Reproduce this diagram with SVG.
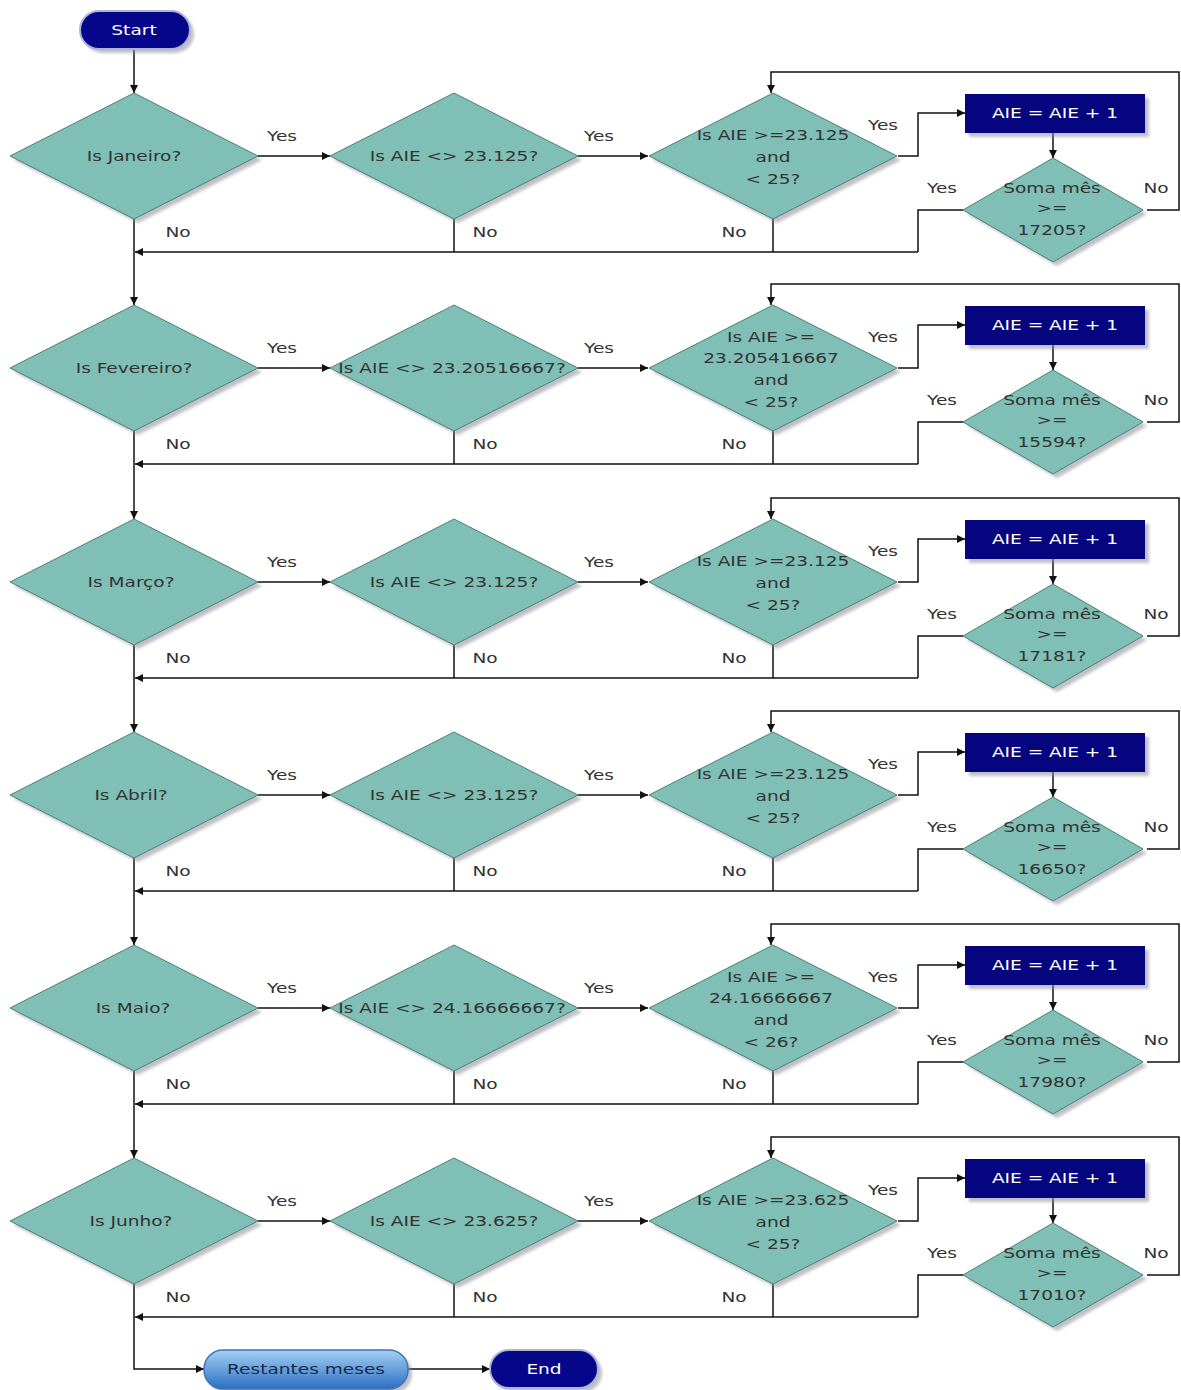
<svg xmlns="http://www.w3.org/2000/svg" width="1181" height="1390" viewBox="0 0 1181 1390">
<style>
.dia{fill:#7fbfb6;stroke:#4d7f7a;stroke-width:1}
.sh{fill:#8c8c9c;opacity:.55;filter:url(#blur)}
.box{fill:#05057f}
.term{fill:#06068a;stroke:#a9b6d6;stroke-width:2}
.t{font-family:"DejaVu Sans",Verdana,sans-serif;font-size:14.5px;fill:#333;text-anchor:middle}
.w{fill:#fff}
.c{fill:none;stroke:#111;stroke-width:1.5}
.ar{marker-end:url(#a)}
</style>
<defs>
<filter id="blur" x="-10%" y="-10%" width="120%" height="120%"><feGaussianBlur stdDeviation="1.5"/></filter>
<polygon id="dB" points="-124,0 0,-63 124,0 0,63"/>
<polygon id="dS" points="-90,0 0,-52 90,0 0,52"/>
<marker id="a" viewBox="0 0 10 10" refX="10" refY="5" markerWidth="9" markerHeight="8" markerUnits="userSpaceOnUse" orient="auto"><path d="M0,0L10,5L0,10z" fill="#111"/></marker>
<linearGradient id="g" x1="0" y1="0" x2="0" y2="1"><stop offset="0" stop-color="#a3d0f3"/><stop offset="1" stop-color="#2b6fc4"/></linearGradient>
</defs>
<rect width="1181" height="1390" fill="#fff"/>

<g id="connectors">
<path class="c ar" d="M134,50V93"/>
<g id="conn-row1">
<path class="c ar" d="M258,156H330"/><path class="c ar" d="M578,156H648"/>
<path class="c ar" d="M898,156H918V113H965"/><path class="c ar" d="M1053,133V158"/>
<path class="c" d="M963,210H918V252"/><path class="c ar" d="M918,252H135"/>
<path class="c" d="M454,219V252"/><path class="c" d="M773,219V252"/>
<path class="c ar" d="M1147,210H1179V72H771V93"/>
<path class="c ar" d="M134,219V305"/>
<text class="t" transform="matrix(1.28 0 0 1 282 141)">Yes</text><text class="t" transform="matrix(1.28 0 0 1 599 141)">Yes</text>
<text class="t" transform="matrix(1.28 0 0 1 883 130)">Yes</text><text class="t" transform="matrix(1.28 0 0 1 942 193)">Yes</text>
<text class="t" transform="matrix(1.28 0 0 1 1156 193)">No</text>
<text class="t" transform="matrix(1.28 0 0 1 178 237)">No</text><text class="t" transform="matrix(1.28 0 0 1 485 237)">No</text><text class="t" transform="matrix(1.28 0 0 1 734 237)">No</text>
</g>
<g id="conn-row2" transform="translate(0,212)">
<path class="c ar" d="M258,156H330"/><path class="c ar" d="M578,156H648"/>
<path class="c ar" d="M898,156H918V113H965"/><path class="c ar" d="M1053,133V158"/>
<path class="c" d="M963,210H918V252"/><path class="c ar" d="M918,252H135"/>
<path class="c" d="M454,219V252"/><path class="c" d="M773,219V252"/>
<path class="c ar" d="M1147,210H1179V72H771V93"/>
<path class="c ar" d="M134,219V307"/>
<text class="t" transform="matrix(1.28 0 0 1 282 141)">Yes</text><text class="t" transform="matrix(1.28 0 0 1 599 141)">Yes</text>
<text class="t" transform="matrix(1.28 0 0 1 883 130)">Yes</text><text class="t" transform="matrix(1.28 0 0 1 942 193)">Yes</text>
<text class="t" transform="matrix(1.28 0 0 1 1156 193)">No</text>
<text class="t" transform="matrix(1.28 0 0 1 178 237)">No</text><text class="t" transform="matrix(1.28 0 0 1 485 237)">No</text><text class="t" transform="matrix(1.28 0 0 1 734 237)">No</text>
</g>
<g id="conn-row3" transform="translate(0,426)">
<path class="c ar" d="M258,156H330"/><path class="c ar" d="M578,156H648"/>
<path class="c ar" d="M898,156H918V113H965"/><path class="c ar" d="M1053,133V158"/>
<path class="c" d="M963,210H918V252"/><path class="c ar" d="M918,252H135"/>
<path class="c" d="M454,219V252"/><path class="c" d="M773,219V252"/>
<path class="c ar" d="M1147,210H1179V72H771V93"/>
<path class="c ar" d="M134,219V306"/>
<text class="t" transform="matrix(1.28 0 0 1 282 141)">Yes</text><text class="t" transform="matrix(1.28 0 0 1 599 141)">Yes</text>
<text class="t" transform="matrix(1.28 0 0 1 883 130)">Yes</text><text class="t" transform="matrix(1.28 0 0 1 942 193)">Yes</text>
<text class="t" transform="matrix(1.28 0 0 1 1156 193)">No</text>
<text class="t" transform="matrix(1.28 0 0 1 178 237)">No</text><text class="t" transform="matrix(1.28 0 0 1 485 237)">No</text><text class="t" transform="matrix(1.28 0 0 1 734 237)">No</text>
</g>
<g id="conn-row4" transform="translate(0,639)">
<path class="c ar" d="M258,156H330"/><path class="c ar" d="M578,156H648"/>
<path class="c ar" d="M898,156H918V113H965"/><path class="c ar" d="M1053,133V158"/>
<path class="c" d="M963,210H918V252"/><path class="c ar" d="M918,252H135"/>
<path class="c" d="M454,219V252"/><path class="c" d="M773,219V252"/>
<path class="c ar" d="M1147,210H1179V72H771V93"/>
<path class="c ar" d="M134,219V306"/>
<text class="t" transform="matrix(1.28 0 0 1 282 141)">Yes</text><text class="t" transform="matrix(1.28 0 0 1 599 141)">Yes</text>
<text class="t" transform="matrix(1.28 0 0 1 883 130)">Yes</text><text class="t" transform="matrix(1.28 0 0 1 942 193)">Yes</text>
<text class="t" transform="matrix(1.28 0 0 1 1156 193)">No</text>
<text class="t" transform="matrix(1.28 0 0 1 178 237)">No</text><text class="t" transform="matrix(1.28 0 0 1 485 237)">No</text><text class="t" transform="matrix(1.28 0 0 1 734 237)">No</text>
</g>
<g id="conn-row5" transform="translate(0,852)">
<path class="c ar" d="M258,156H330"/><path class="c ar" d="M578,156H648"/>
<path class="c ar" d="M898,156H918V113H965"/><path class="c ar" d="M1053,133V158"/>
<path class="c" d="M963,210H918V252"/><path class="c ar" d="M918,252H135"/>
<path class="c" d="M454,219V252"/><path class="c" d="M773,219V252"/>
<path class="c ar" d="M1147,210H1179V72H771V93"/>
<path class="c ar" d="M134,219V306"/>
<text class="t" transform="matrix(1.28 0 0 1 282 141)">Yes</text><text class="t" transform="matrix(1.28 0 0 1 599 141)">Yes</text>
<text class="t" transform="matrix(1.28 0 0 1 883 130)">Yes</text><text class="t" transform="matrix(1.28 0 0 1 942 193)">Yes</text>
<text class="t" transform="matrix(1.28 0 0 1 1156 193)">No</text>
<text class="t" transform="matrix(1.28 0 0 1 178 237)">No</text><text class="t" transform="matrix(1.28 0 0 1 485 237)">No</text><text class="t" transform="matrix(1.28 0 0 1 734 237)">No</text>
</g>
<g id="conn-row6" transform="translate(0,1065)">
<path class="c ar" d="M258,156H330"/><path class="c ar" d="M578,156H648"/>
<path class="c ar" d="M898,156H918V113H965"/><path class="c ar" d="M1053,133V158"/>
<path class="c" d="M963,210H918V252"/><path class="c ar" d="M918,252H135"/>
<path class="c" d="M454,219V252"/><path class="c" d="M773,219V252"/>
<path class="c ar" d="M1147,210H1179V72H771V93"/>
<path class="c ar" d="M134,219V304H204"/>
<text class="t" transform="matrix(1.28 0 0 1 282 141)">Yes</text><text class="t" transform="matrix(1.28 0 0 1 599 141)">Yes</text>
<text class="t" transform="matrix(1.28 0 0 1 883 130)">Yes</text><text class="t" transform="matrix(1.28 0 0 1 942 193)">Yes</text>
<text class="t" transform="matrix(1.28 0 0 1 1156 193)">No</text>
<text class="t" transform="matrix(1.28 0 0 1 178 237)">No</text><text class="t" transform="matrix(1.28 0 0 1 485 237)">No</text><text class="t" transform="matrix(1.28 0 0 1 734 237)">No</text>
</g>
<path class="c ar" d="M408,1369H490"/>
</g>

<g id="start"><rect class="sh" x="84" y="15" width="110" height="38" rx="19"/><rect class="term" x="80" y="11" width="110" height="38" rx="19"/><text class="t w" transform="matrix(1.28 0 0 1 134 35)">Start</text></g>

<g id="row1">
<g id="q-janeiro"><use href="#dB" x="138" y="160" class="sh"/><use href="#dB" x="134" y="156" class="dia"/><text class="t" transform="matrix(1.28 0 0 1 134 161)">Is Janeiro?</text></g>
<g id="q-aie-ne-1"><use href="#dB" x="458" y="160" class="sh"/><use href="#dB" x="454" y="156" class="dia"/><text class="t" transform="matrix(1.28 0 0 1 454 161)">Is AIE &lt;&gt; 23.125?</text></g>
<g id="q-aie-range-1"><use href="#dB" x="777" y="160" class="sh"/><use href="#dB" x="773" y="156" class="dia"/><text class="t" transform="matrix(1.28 0 0 1 773 156)"><tspan x="0" y="-16">Is AIE &gt;=23.125</tspan><tspan x="0" y="6">and</tspan><tspan x="0" y="28">&lt; 25?</tspan></text></g>
<g id="inc-1"><rect class="sh" x="969" y="98" width="180" height="39"/><rect class="box" x="965" y="94" width="180" height="39"/><text class="t w" transform="matrix(1.28 0 0 1 1055 118)">AIE = AIE + 1</text></g>
<g id="soma-1"><use href="#dS" x="1057" y="214" class="sh"/><use href="#dS" x="1053" y="210" class="dia"/><text class="t" transform="matrix(1.28 0 0 1 1052 156)"><tspan x="0" y="37">Soma mês</tspan><tspan x="0" y="57">&gt;=</tspan><tspan x="0" y="79">17205?</tspan></text></g>
</g>

<g id="row2" transform="translate(0,212)">
<g id="q-fevereiro"><use href="#dB" x="138" y="160" class="sh"/><use href="#dB" x="134" y="156" class="dia"/><text class="t" transform="matrix(1.28 0 0 1 134 161)">Is Fevereiro?</text></g>
<g id="q-aie-ne-2"><use href="#dB" x="458" y="160" class="sh"/><use href="#dB" x="454" y="156" class="dia"/><text class="t" transform="matrix(1.28 0 0 1 452 161)">Is AIE &lt;&gt; 23.20516667?</text></g>
<g id="q-aie-range-2"><use href="#dB" x="777" y="160" class="sh"/><use href="#dB" x="773" y="156" class="dia"/><text class="t" transform="matrix(1.28 0 0 1 771 156)"><tspan x="0" y="-26">Is AIE &gt;=</tspan><tspan x="0" y="-5">23.205416667</tspan><tspan x="0" y="17">and</tspan><tspan x="0" y="39">&lt; 25?</tspan></text></g>
<g id="inc-2"><rect class="sh" x="969" y="98" width="180" height="39"/><rect class="box" x="965" y="94" width="180" height="39"/><text class="t w" transform="matrix(1.28 0 0 1 1055 118)">AIE = AIE + 1</text></g>
<g id="soma-2"><use href="#dS" x="1057" y="214" class="sh"/><use href="#dS" x="1053" y="210" class="dia"/><text class="t" transform="matrix(1.28 0 0 1 1052 156)"><tspan x="0" y="37">Soma mês</tspan><tspan x="0" y="57">&gt;=</tspan><tspan x="0" y="79">15594?</tspan></text></g>
</g>

<g id="row3" transform="translate(0,426)">
<g id="q-marco"><use href="#dB" x="138" y="160" class="sh"/><use href="#dB" x="134" y="156" class="dia"/><text class="t" transform="matrix(1.28 0 0 1 131 161)">Is Março?</text></g>
<g id="q-aie-ne-3"><use href="#dB" x="458" y="160" class="sh"/><use href="#dB" x="454" y="156" class="dia"/><text class="t" transform="matrix(1.28 0 0 1 454 161)">Is AIE &lt;&gt; 23.125?</text></g>
<g id="q-aie-range-3"><use href="#dB" x="777" y="160" class="sh"/><use href="#dB" x="773" y="156" class="dia"/><text class="t" transform="matrix(1.28 0 0 1 773 156)"><tspan x="0" y="-16">Is AIE &gt;=23.125</tspan><tspan x="0" y="6">and</tspan><tspan x="0" y="28">&lt; 25?</tspan></text></g>
<g id="inc-3"><rect class="sh" x="969" y="98" width="180" height="39"/><rect class="box" x="965" y="94" width="180" height="39"/><text class="t w" transform="matrix(1.28 0 0 1 1055 118)">AIE = AIE + 1</text></g>
<g id="soma-3"><use href="#dS" x="1057" y="214" class="sh"/><use href="#dS" x="1053" y="210" class="dia"/><text class="t" transform="matrix(1.28 0 0 1 1052 156)"><tspan x="0" y="37">Soma mês</tspan><tspan x="0" y="57">&gt;=</tspan><tspan x="0" y="79">17181?</tspan></text></g>
</g>

<g id="row4" transform="translate(0,639)">
<g id="q-abril"><use href="#dB" x="138" y="160" class="sh"/><use href="#dB" x="134" y="156" class="dia"/><text class="t" transform="matrix(1.28 0 0 1 131 161)">Is Abril?</text></g>
<g id="q-aie-ne-4"><use href="#dB" x="458" y="160" class="sh"/><use href="#dB" x="454" y="156" class="dia"/><text class="t" transform="matrix(1.28 0 0 1 454 161)">Is AIE &lt;&gt; 23.125?</text></g>
<g id="q-aie-range-4"><use href="#dB" x="777" y="160" class="sh"/><use href="#dB" x="773" y="156" class="dia"/><text class="t" transform="matrix(1.28 0 0 1 773 156)"><tspan x="0" y="-16">Is AIE &gt;=23.125</tspan><tspan x="0" y="6">and</tspan><tspan x="0" y="28">&lt; 25?</tspan></text></g>
<g id="inc-4"><rect class="sh" x="969" y="98" width="180" height="39"/><rect class="box" x="965" y="94" width="180" height="39"/><text class="t w" transform="matrix(1.28 0 0 1 1055 118)">AIE = AIE + 1</text></g>
<g id="soma-4"><use href="#dS" x="1057" y="214" class="sh"/><use href="#dS" x="1053" y="210" class="dia"/><text class="t" transform="matrix(1.28 0 0 1 1052 156)"><tspan x="0" y="37">Soma mês</tspan><tspan x="0" y="57">&gt;=</tspan><tspan x="0" y="79">16650?</tspan></text></g>
</g>

<g id="row5" transform="translate(0,852)">
<g id="q-maio"><use href="#dB" x="138" y="160" class="sh"/><use href="#dB" x="134" y="156" class="dia"/><text class="t" transform="matrix(1.28 0 0 1 133 161)">Is Maio?</text></g>
<g id="q-aie-ne-5"><use href="#dB" x="458" y="160" class="sh"/><use href="#dB" x="454" y="156" class="dia"/><text class="t" transform="matrix(1.28 0 0 1 452 161)">Is AIE &lt;&gt; 24.16666667?</text></g>
<g id="q-aie-range-5"><use href="#dB" x="777" y="160" class="sh"/><use href="#dB" x="773" y="156" class="dia"/><text class="t" transform="matrix(1.28 0 0 1 771 156)"><tspan x="0" y="-26">Is AIE &gt;=</tspan><tspan x="0" y="-5">24.16666667</tspan><tspan x="0" y="17">and</tspan><tspan x="0" y="39">&lt; 26?</tspan></text></g>
<g id="inc-5"><rect class="sh" x="969" y="98" width="180" height="39"/><rect class="box" x="965" y="94" width="180" height="39"/><text class="t w" transform="matrix(1.28 0 0 1 1055 118)">AIE = AIE + 1</text></g>
<g id="soma-5"><use href="#dS" x="1057" y="214" class="sh"/><use href="#dS" x="1053" y="210" class="dia"/><text class="t" transform="matrix(1.28 0 0 1 1052 156)"><tspan x="0" y="37">Soma mês</tspan><tspan x="0" y="57">&gt;=</tspan><tspan x="0" y="79">17980?</tspan></text></g>
</g>

<g id="row6" transform="translate(0,1065)">
<g id="q-junho"><use href="#dB" x="138" y="160" class="sh"/><use href="#dB" x="134" y="156" class="dia"/><text class="t" transform="matrix(1.28 0 0 1 131 161)">Is Junho?</text></g>
<g id="q-aie-ne-6"><use href="#dB" x="458" y="160" class="sh"/><use href="#dB" x="454" y="156" class="dia"/><text class="t" transform="matrix(1.28 0 0 1 454 161)">Is AIE &lt;&gt; 23.625?</text></g>
<g id="q-aie-range-6"><use href="#dB" x="777" y="160" class="sh"/><use href="#dB" x="773" y="156" class="dia"/><text class="t" transform="matrix(1.28 0 0 1 773 156)"><tspan x="0" y="-16">Is AIE &gt;=23.625</tspan><tspan x="0" y="6">and</tspan><tspan x="0" y="28">&lt; 25?</tspan></text></g>
<g id="inc-6"><rect class="sh" x="969" y="98" width="180" height="39"/><rect class="box" x="965" y="94" width="180" height="39"/><text class="t w" transform="matrix(1.28 0 0 1 1055 118)">AIE = AIE + 1</text></g>
<g id="soma-6"><use href="#dS" x="1057" y="214" class="sh"/><use href="#dS" x="1053" y="210" class="dia"/><text class="t" transform="matrix(1.28 0 0 1 1052 156)"><tspan x="0" y="37">Soma mês</tspan><tspan x="0" y="57">&gt;=</tspan><tspan x="0" y="79">17010?</tspan></text></g>
</g>

<g id="restantes"><rect class="sh" x="208" y="1354" width="204" height="39" rx="19"/><rect x="204" y="1350" width="204" height="39" rx="19" fill="url(#g)" stroke="#3f74b4" stroke-width="1.5"/><text class="t" style="fill:#1b2a4a" transform="matrix(1.28 0 0 1 306 1374)">Restantes meses</text></g>
<g id="end"><rect class="sh" x="494" y="1354" width="108" height="38" rx="19"/><rect class="term" x="490" y="1350" width="108" height="38" rx="19"/><text class="t w" transform="matrix(1.28 0 0 1 544 1374)">End</text></g>
</svg>
